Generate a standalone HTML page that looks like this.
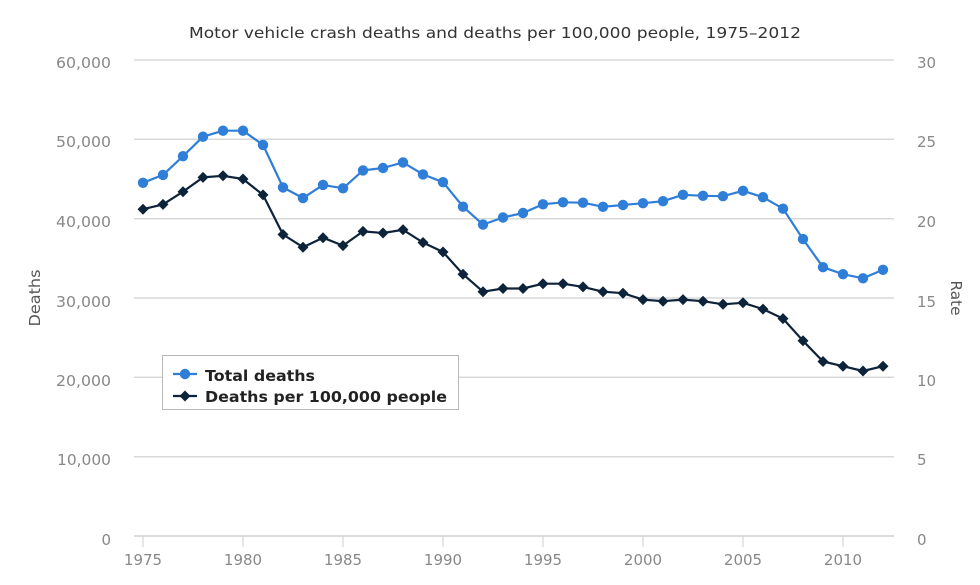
<!DOCTYPE html>
<html><head><meta charset="utf-8"><style>
html,body{margin:0;padding:0;background:#fff;}
svg{display:block;font-family:"DejaVu Sans","Liberation Sans",sans-serif;}
</style></head><body>
<svg width="980" height="585" viewBox="0 0 980 585" xmlns="http://www.w3.org/2000/svg">
<defs>
<circle id="c" r="5.2" fill="#2f7ed8"/>
<path id="d" d="M0,-5.5 L5.5,0 L0,5.5 L-5.5,0 Z" fill="#0d233a"/>
</defs>
<rect width="980" height="585" fill="#fff"/>
<text x="495" y="38" text-anchor="middle" font-size="15" fill="#333" textLength="612" lengthAdjust="spacingAndGlyphs">Motor vehicle crash deaths and deaths per 100,000 people, 1975–2012</text>
<g stroke="#d8d8d8" stroke-width="1.5">
<line x1="134" y1="60" x2="894" y2="60"/>
<line x1="134" y1="139.3" x2="894" y2="139.3"/>
<line x1="134" y1="218.7" x2="894" y2="218.7"/>
<line x1="134" y1="298" x2="894" y2="298"/>
<line x1="134" y1="377.3" x2="894" y2="377.3"/>
<line x1="134" y1="456.7" x2="894" y2="456.7"/>
<line x1="134" y1="536" x2="894" y2="536" stroke="#d0d0d0"/>
</g>
<g stroke="#cfcfcf" stroke-width="1">
<line x1="143" y1="536" x2="143" y2="547"/>
<line x1="243" y1="536" x2="243" y2="547"/>
<line x1="343" y1="536" x2="343" y2="547"/>
<line x1="443" y1="536" x2="443" y2="547"/>
<line x1="543" y1="536" x2="543" y2="547"/>
<line x1="643" y1="536" x2="643" y2="547"/>
<line x1="743" y1="536" x2="743" y2="547"/>
<line x1="843" y1="536" x2="843" y2="547"/>
</g>
<g font-size="15" fill="#888" text-anchor="end">
<text x="111" y="68" textLength="55" lengthAdjust="spacingAndGlyphs">60,000</text>
<text x="111" y="147" textLength="55" lengthAdjust="spacingAndGlyphs">50,000</text>
<text x="111" y="227" textLength="55" lengthAdjust="spacingAndGlyphs">40,000</text>
<text x="111" y="307" textLength="55" lengthAdjust="spacingAndGlyphs">30,000</text>
<text x="111" y="386" textLength="55" lengthAdjust="spacingAndGlyphs">20,000</text>
<text x="111" y="465" textLength="54" lengthAdjust="spacingAndGlyphs">10,000</text>
<text x="111" y="545">0</text>
</g>
<g font-size="15" fill="#888" text-anchor="start">
<text x="917" y="68">30</text>
<text x="917" y="147">25</text>
<text x="917" y="227">20</text>
<text x="917" y="307">15</text>
<text x="917" y="386">10</text>
<text x="917" y="465">5</text>
<text x="917" y="545">0</text>
</g>
<g font-size="15" fill="#888" text-anchor="middle">
<text x="143" y="565">1975</text>
<text x="243" y="565">1980</text>
<text x="343" y="565">1985</text>
<text x="443" y="565">1990</text>
<text x="543" y="565">1995</text>
<text x="643" y="565">2000</text>
<text x="743" y="565">2005</text>
<text x="843" y="565">2010</text>
</g>
<text transform="translate(40,298) rotate(-90)" text-anchor="middle" font-size="15" fill="#555" textLength="57" lengthAdjust="spacingAndGlyphs">Deaths</text>
<text transform="translate(951,298) rotate(90)" text-anchor="middle" font-size="15" fill="#555" textLength="35" lengthAdjust="spacingAndGlyphs">Rate</text>

<polyline fill="none" stroke="#2f7ed8" stroke-width="2.2" stroke-linejoin="round" points="143,182.8 163,174.9 183,156.2 203,136.7 223,130.7 243,130.7 263,144.9 283,187.4 303,198.1 323,184.9 343,188.3 363,170.4 383,168.0 403,162.4 423,174.4 443,182.2 463,206.7 483,224.6 503,217.5 523,213.0 543,204.3 563,202.3 583,202.7 603,206.8 623,205.0 643,203.2 663,201.2 683,194.8 703,195.8 723,196.2 743,190.8 763,197.2 783,208.7 803,239.1 823,267.2 843,274.2 863,278.3 883,269.8"/>
<g>
<use href="#c" x="143" y="182.8"/><use href="#c" x="163" y="174.9"/><use href="#c" x="183" y="156.2"/><use href="#c" x="203" y="136.7"/><use href="#c" x="223" y="130.7"/><use href="#c" x="243" y="130.7"/><use href="#c" x="263" y="144.9"/><use href="#c" x="283" y="187.4"/><use href="#c" x="303" y="198.1"/><use href="#c" x="323" y="184.9"/><use href="#c" x="343" y="188.3"/><use href="#c" x="363" y="170.4"/><use href="#c" x="383" y="168.0"/><use href="#c" x="403" y="162.4"/><use href="#c" x="423" y="174.4"/><use href="#c" x="443" y="182.2"/><use href="#c" x="463" y="206.7"/><use href="#c" x="483" y="224.6"/><use href="#c" x="503" y="217.5"/><use href="#c" x="523" y="213.0"/><use href="#c" x="543" y="204.3"/><use href="#c" x="563" y="202.3"/><use href="#c" x="583" y="202.7"/><use href="#c" x="603" y="206.8"/><use href="#c" x="623" y="205.0"/><use href="#c" x="643" y="203.2"/><use href="#c" x="663" y="201.2"/><use href="#c" x="683" y="194.8"/><use href="#c" x="703" y="195.8"/><use href="#c" x="723" y="196.2"/><use href="#c" x="743" y="190.8"/><use href="#c" x="763" y="197.2"/><use href="#c" x="783" y="208.7"/><use href="#c" x="803" y="239.1"/><use href="#c" x="823" y="267.2"/><use href="#c" x="843" y="274.2"/><use href="#c" x="863" y="278.3"/><use href="#c" x="883" y="269.8"/>
</g>

<polyline fill="none" stroke="#0d233a" stroke-width="2.2" stroke-linejoin="round" points="143,209.2 163,204.4 183,191.7 203,177.4 223,175.8 243,179.0 263,194.9 283,234.5 303,247.2 323,237.7 343,245.6 363,231.4 383,233.0 403,229.8 423,242.5 443,252.0 463,274.2 483,291.7 503,288.5 523,288.5 543,283.7 563,283.7 583,286.9 603,291.7 623,293.2 643,299.6 663,301.2 683,299.6 703,301.2 723,304.3 743,302.8 763,309.1 783,318.6 803,340.8 823,361.5 843,366.2 863,371.0 883,366.2"/>
<g>
<use href="#d" x="143" y="209.2"/><use href="#d" x="163" y="204.4"/><use href="#d" x="183" y="191.7"/><use href="#d" x="203" y="177.4"/><use href="#d" x="223" y="175.8"/><use href="#d" x="243" y="179.0"/><use href="#d" x="263" y="194.9"/><use href="#d" x="283" y="234.5"/><use href="#d" x="303" y="247.2"/><use href="#d" x="323" y="237.7"/><use href="#d" x="343" y="245.6"/><use href="#d" x="363" y="231.4"/><use href="#d" x="383" y="233.0"/><use href="#d" x="403" y="229.8"/><use href="#d" x="423" y="242.5"/><use href="#d" x="443" y="252.0"/><use href="#d" x="463" y="274.2"/><use href="#d" x="483" y="291.7"/><use href="#d" x="503" y="288.5"/><use href="#d" x="523" y="288.5"/><use href="#d" x="543" y="283.7"/><use href="#d" x="563" y="283.7"/><use href="#d" x="583" y="286.9"/><use href="#d" x="603" y="291.7"/><use href="#d" x="623" y="293.2"/><use href="#d" x="643" y="299.6"/><use href="#d" x="663" y="301.2"/><use href="#d" x="683" y="299.6"/><use href="#d" x="703" y="301.2"/><use href="#d" x="723" y="304.3"/><use href="#d" x="743" y="302.8"/><use href="#d" x="763" y="309.1"/><use href="#d" x="783" y="318.6"/><use href="#d" x="803" y="340.8"/><use href="#d" x="823" y="361.5"/><use href="#d" x="843" y="366.2"/><use href="#d" x="863" y="371.0"/><use href="#d" x="883" y="366.2"/>
</g>

<rect x="162.5" y="355.5" width="296" height="54" fill="#fff" stroke="#b8b8b8" stroke-width="1"/>
<line x1="173" y1="374" x2="197" y2="374" stroke="#2f7ed8" stroke-width="2.2"/>
<use href="#c" x="185" y="374"/>
<line x1="173" y1="396" x2="197" y2="396" stroke="#0d233a" stroke-width="2.2"/>
<use href="#d" x="185" y="396"/>
<g font-size="15.5" font-weight="bold" fill="#222">
<text x="205" y="381" textLength="110" lengthAdjust="spacingAndGlyphs">Total deaths</text>
<text x="205" y="402" textLength="242" lengthAdjust="spacingAndGlyphs">Deaths per 100,000 people</text>
</g>
</svg>
</body></html>
